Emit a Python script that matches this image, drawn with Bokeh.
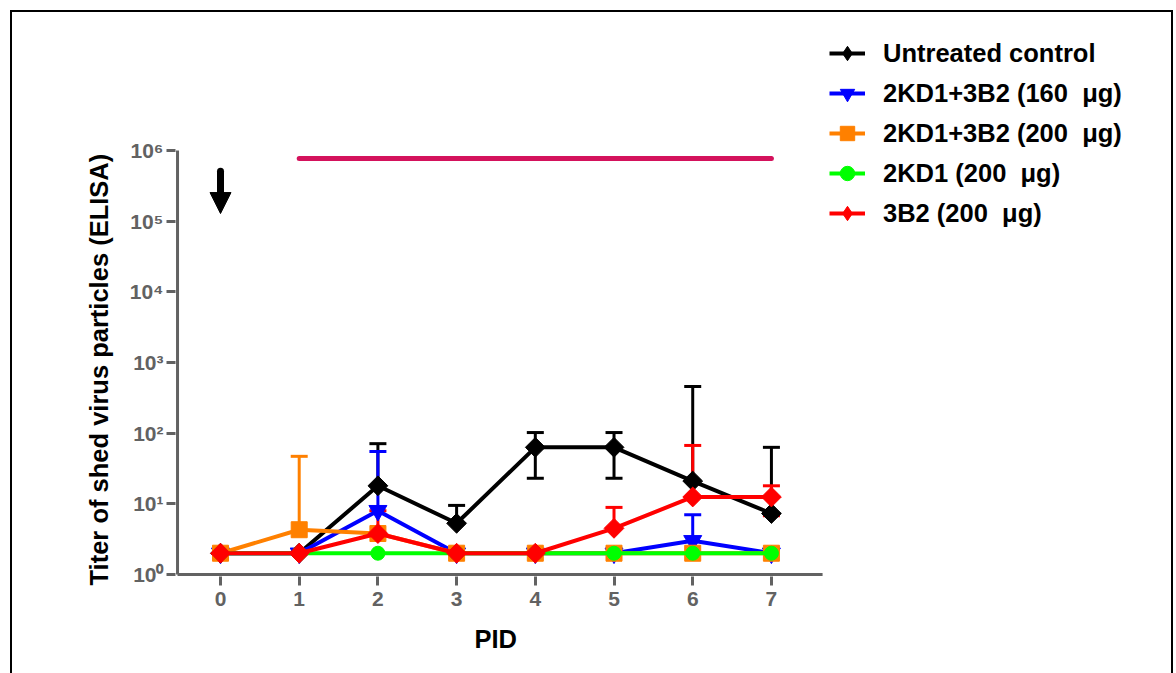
import numpy as np
from bokeh.plotting import figure
from bokeh.models import (Range1d, FixedTicker, CustomJSTickFormatter, Whisker, TeeHead,
                          ColumnDataSource, Legend, LegendItem, Arrow, NormalHead, Title)
from bokeh.embed import file_html
from bokeh.resources import INLINE

# ---------------- data ----------------
pid = [0, 1, 2, 3, 4, 5, 6, 7]

untreated = [2, 2, 18, 5.3, 63, 63, 21, 7.3]
untreated_hi = [2, 2, 71, 9.5, 102, 102, 457, 63]
untreated_lo = [2, 2, 18, 5.3, 23, 23, 21, 7.3]

kd_3b2_160 = [2, 2, 8, 2, 2, 2, 3, 2]
kd_3b2_160_hi = [2, 2, 55, 2, 2, 2, 7, 2]
kd_3b2_160_lo = [2, 2, 8, 2, 2, 2, 3, 2]

kd_3b2_200 = [2, 4.3, 3.8, 2, 2, 2, 2, 2]
kd_3b2_200_hi = [2, 47, 3.8, 2, 2, 2, 2, 2]
kd_3b2_200_lo = [2, 4.3, 3.8, 2, 2, 2, 2, 2]

kd1_200 = [2, 2, 2, 2, 2, 2, 2, 2]
kd1_200_hi = [2, 2, 2, 2, 2, 2, 2, 2]
kd1_200_lo = [2, 2, 2, 2, 2, 2, 2, 2]

b2_200 = [2, 2, 3.8, 2, 2, 4.5, 12.5, 12.5]
b2_200_hi = [2, 2, 8, 2, 2, 8.9, 67, 18]
b2_200_lo = [2, 2, 3.8, 2, 2, 4.5, 12.5, 6.8]

labels = ["Untreated control", "2KD1+3B2 (160  \u03bcg)", "2KD1+3B2 (200  \u03bcg)",
          "2KD1 (200  \u03bcg)", "3B2 (200  \u03bcg)"]

x_label = "PID"
y_label = "Titer of shed virus particles (ELISA)"

# treatment period bar and injection arrow
treat_start, treat_end, treat_level = 1, 7, 7.7e5
arrow_x, arrow_top, arrow_neck, arrow_tip = 0, 5.1e5, 2.5e5, 1.28e5

x_ticks = [0, 1, 2, 3, 4, 5, 6, 7]
y_ticks = [1, 10, 100, 1000, 10000, 100000, 1000000]

# drawn axis extents (data units)
x_axis_from, x_axis_to = -0.546, 7.65
y_axis_from, y_axis_to = 1, 1e6

# ---------------- figure ----------------
FONT = "Liberation Sans"
GREY = "#626262"

p = figure(width=1176, height=673, y_axis_type="log",
           x_range=Range1d(-0.5718, 12.147), y_range=Range1d(10 ** -0.0283, 10 ** 8.122),
           output_backend="svg", toolbar_location=None,
           min_border_left=175, min_border_right=0, min_border_top=0, min_border_bottom=97)
p.outline_line_color = None
p.xgrid.visible = False
p.ygrid.visible = False
p.background_fill_color = None
p.border_fill_color = None
p.styles = {
    "background-color": "white",
    "background-image": "linear-gradient(#000,#000), linear-gradient(#000,#000), linear-gradient(#000,#000)",
    "background-size": "2px 100%, 1163px 2px, 2px 100%",
    "background-position": "10px 10px, 10px 10px, 1171px 10px",
    "background-repeat": "no-repeat",
}

for ax in (p.xaxis[0], p.yaxis[0]):
    ax.axis_line_color = None
    ax.major_tick_line_color = GREY
    ax.major_tick_line_width = 3
    ax.major_tick_out = 9
    ax.major_tick_in = 0
    ax.minor_tick_line_color = None
    ax.major_label_text_font = FONT
    ax.major_label_text_font_style = "bold"
    ax.major_label_text_font_size = "21px"
    ax.major_label_text_color = GREY

p.xaxis.ticker = FixedTicker(ticks=x_ticks)
p.xaxis.major_label_standoff = 6

p.yaxis.ticker = FixedTicker(ticks=y_ticks)
p.yaxis.formatter = CustomJSTickFormatter(code="""
const sup = ['\u2070','\u00b9','\u00b2','\u00b3','\u2074','\u2075','\u2076','\u2077','\u2078','\u2079'];
return '10' + sup[Math.round(Math.log10(tick))];
""")
p.yaxis.major_label_standoff = 3

# axis titles (as panel titles so they sit under the drawn axes, not the whole frame)
p.add_layout(Title(text=x_label, align="left", offset=299, standoff=29,
                   text_font=FONT, text_font_style="bold", text_font_size="25.5px",
                   text_color="black"), "below")
p.add_layout(Title(text=y_label, align="left", offset=-9, standoff=27,
                   text_font=FONT, text_font_style="bold", text_font_size="25.5px",
                   text_color="black"), "left")

# axis lines (drawn as glyphs so they stop at the data extents)
p.line([x_axis_from, x_axis_to], [y_axis_from, y_axis_from], line_color=GREY, line_width=3)
p.line([x_axis_from, x_axis_from], [y_axis_from, y_axis_to], line_color=GREY, line_width=3)

# treatment bar and arrow
p.line([treat_start, treat_end], [treat_level, treat_level], line_color="#d4125c",
       line_width=5, line_cap="round")
p.line([arrow_x, arrow_x], [arrow_top, arrow_neck], line_color="black", line_width=7,
       line_cap="round")
p.add_layout(Arrow(end=NormalHead(size=21, fill_color="black", line_color="black", line_width=1),
                   x_start=arrow_x, y_start=arrow_top, x_end=arrow_x, y_end=arrow_tip,
                   line_alpha=0))

series = [
    (untreated, untreated_hi, untreated_lo, "black", "square", 14, np.pi / 4, "diamond"),
    (kd_3b2_160, kd_3b2_160_hi, kd_3b2_160_lo, "#0000ff", "inverted_triangle", 18, 0, None),
    (kd_3b2_200, kd_3b2_200_hi, kd_3b2_200_lo, "#ff8000", "square", 16, 0, None),
    (kd1_200, kd1_200_hi, kd1_200_lo, "#00ff00", "circle", 14, 0, None),
    (b2_200, b2_200_hi, b2_200_lo, "#ff0000", "square", 14, np.pi / 4, "diamond"),
]

items = []
for (ys, hi, lo, col, mk, sz, ang, leg_mk), lab in zip(series, labels):
    up_idx = [i for i in range(len(pid)) if hi[i] > ys[i]]
    if up_idx:
        src = ColumnDataSource(dict(x=[pid[i] for i in up_idx], y=[ys[i] for i in up_idx],
                                    hi=[hi[i] for i in up_idx]))
        p.add_layout(Whisker(source=src, base="x", lower="y", upper="hi", dimension="height",
                             line_color=col, line_width=3, lower_head=None,
                             upper_head=TeeHead(size=17, line_color=col, line_width=3)))
    lo_idx = [i for i in range(len(pid)) if lo[i] < ys[i]]
    if lo_idx:
        src = ColumnDataSource(dict(x=[pid[i] for i in lo_idx], y=[ys[i] for i in lo_idx],
                                    lo=[lo[i] for i in lo_idx]))
        p.add_layout(Whisker(source=src, base="x", lower="lo", upper="y", dimension="height",
                             line_color=col, line_width=3, upper_head=None,
                             lower_head=TeeHead(size=17, line_color=col, line_width=3)))
    ln = p.line(pid, ys, line_color=col, line_width=4)
    if leg_mk is not None:
        # diamond drawn under the rotated square: it gives the legend its diamond shape
        leg_sc = p.scatter(pid, ys, marker=leg_mk, size=sz, fill_color=col, line_color=col)
    sc = p.scatter(pid, ys, marker=mk, size=sz, angle=ang, fill_color=col, line_color=col)
    items.append(LegendItem(label=lab, renderers=[ln, leg_sc if leg_mk is not None else sc]))

legend = Legend(items=items, location=(654, 343), orientation="vertical")
legend.label_text_font = FONT
legend.label_text_font_style = "bold"
legend.label_text_font_size = "25.5px"
legend.label_text_color = "black"
legend.glyph_width = 36
legend.glyph_height = 40
legend.label_height = 40
legend.label_standoff = 18
legend.spacing = 0
legend.padding = 0
legend.margin = 0
legend.border_line_color = None
legend.background_fill_alpha = 0
p.add_layout(legend)

open("out.html", "w").write(file_html(p, INLINE))
